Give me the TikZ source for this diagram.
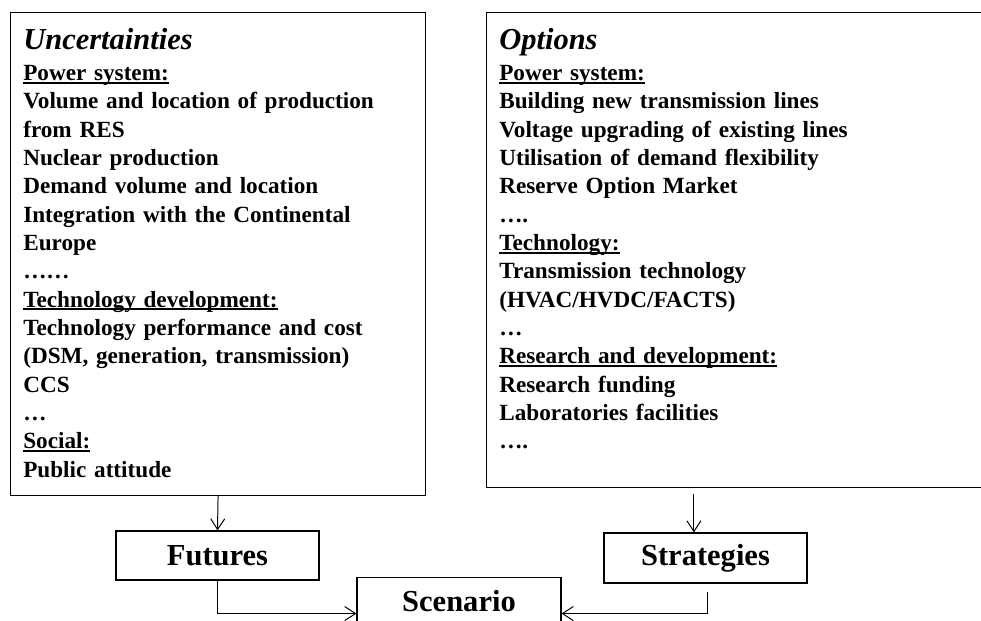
\documentclass[tikz,border=0pt]{standalone}
\usepackage{fontspec}
\setmainfont{Liberation Serif}
\usetikzlibrary{arrows.meta, positioning, calc}

% underlined heading, rule just under the baseline
\newcommand{\hdr}[1]{\leavevmode\setbox0\hbox{#1}\rlap{\rule[-2.2pt]{\wd0}{1.3pt}}\box0}
\newcommand{\boxtitle}[1]{{\fontsize{21.7}{24}\selectfont\itshape #1}\\[2.2pt]}

\begin{document}
\begin{tikzpicture}[
  panel/.style={draw, line width=0.8pt, inner sep=0pt, anchor=north west},
  listtext/.style={anchor=north west, inner sep=0pt, align=left, text width=11cm,
                   font=\fontsize{16.5}{20.15}\selectfont\bfseries},
  stage/.style={draw, line width=0.8pt, minimum width=5.075cm, minimum height=1.225cm,
                inner sep=0pt, font=\fontsize{21.7}{24}\selectfont\bfseries},
  arrow/.style={-{Straight Barb[length=2.7mm, width=3.5mm]}, line width=0.7pt}
]
  \useasboundingbox (0,0) rectangle (24.525,-15.525);
  \clip (0,0) rectangle (24.525,-15.525);

  % the two lists
  \node[panel, minimum width=10.375cm, minimum height=12.075cm] (uncbox) at (0.25,-0.3) {};
  \node[panel, minimum width=13.1cm, minimum height=11.875cm] (optbox) at (12.15,-0.3) {};

  \node[listtext] (unc) at (0.575,-0.69) {%
    \boxtitle{Uncertainties}
    \hdr{Power system:}\\
    Volume and location of production\\
    from RES\\
    Nuclear production\\
    Demand volume and location\\
    Integration with the Continental\\
    Europe\\
    ……\\
    \hdr{Technology development:}\\
    Technology performance and cost\\
    (DSM, generation, transmission)\\
    CCS\\
    …\\
    \hdr{Social:}\\
    Public attitude};

  \node[listtext] (opt) at (12.475,-0.69) {%
    \boxtitle{Options}
    \hdr{Power system:}\\
    Building new transmission lines\\
    Voltage upgrading of existing lines\\
    Utilisation of demand flexibility\\
    Reserve Option Market\\
    ….\\
    \hdr{Technology:}\\
    Transmission technology\\
    (HVAC/HVDC/FACTS)\\
    …\\
    \hdr{Research and development:}\\
    Research funding\\
    Laboratories facilities\\
    ….};

  % futures, strategies, scenario
  \node[stage] (fut) at (5.4375,-13.8875) {Futures};
  \node[stage, minimum height=1.25cm] (strat) at (17.6375,-13.95) {Strategies};
  \node[stage, minimum width=5.1cm, minimum height=1.15cm, anchor=north] (scen) at (11.475,-14.425) {Scenario};

  \draw[arrow] (uncbox.south) -- (fut.north);
  \draw[arrow] ($(optbox.south -| strat.north)+(-0.29,-0.15)$) -- ($(strat.north)+(-0.29,0)$);
  \draw[arrow] (fut.south) |- ($(scen.west)+(0,-0.325)$);
  \draw[arrow, shorten <=0.2cm] ($(strat.south)+(0.06,0)$) |- ($(scen.east)+(0,-0.325)$);
\end{tikzpicture}
\end{document}
